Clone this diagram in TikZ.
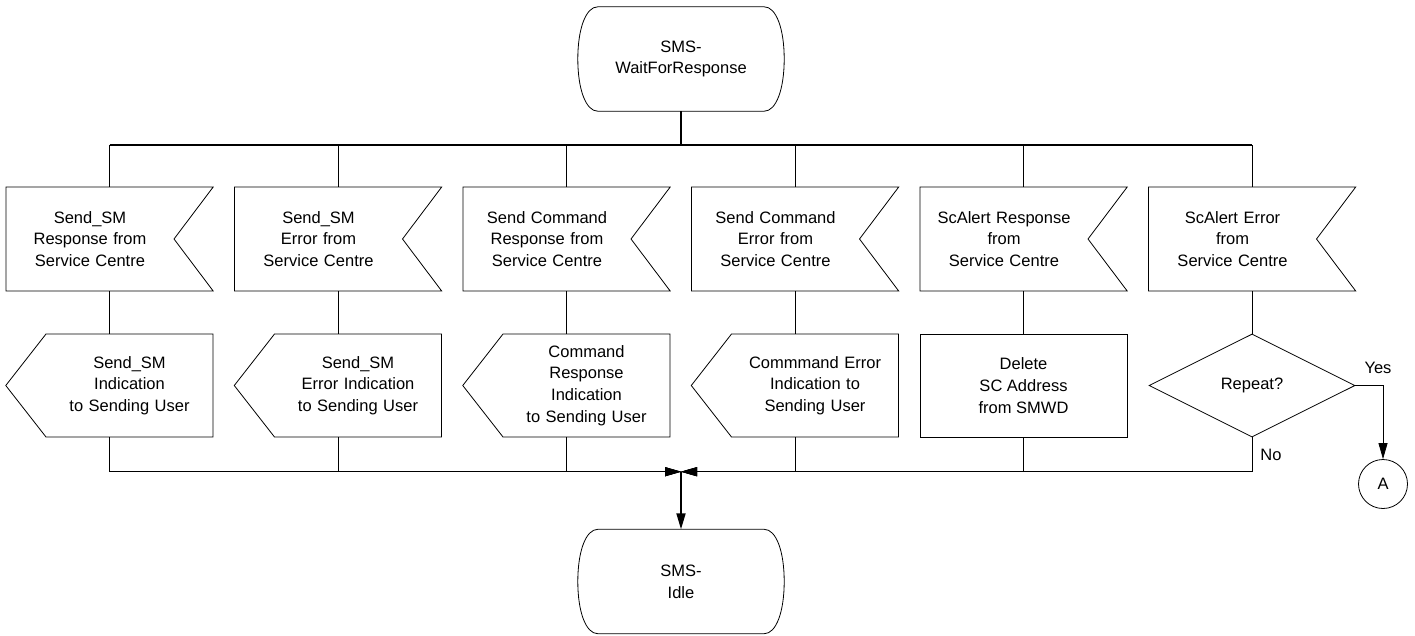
\documentclass[tikz,border=0pt]{standalone}
\usepackage{fontspec}
\setmainfont{Liberation Sans}
\usetikzlibrary{shapes.symbols,shapes.geometric,arrows.meta,calc}

\tikzset{
  state/.style={rectangle, minimum width=206pt, minimum height=104pt, inner sep=0pt,
    align=center},
  insig/.style={draw, line width=0.8pt, signal, signal to=nowhere, signal from=east,
    signal pointer angle=106, text width=168pt, align=center, minimum height=104pt,
    inner xsep=0pt},
  outsig/.style={draw, line width=0.8pt, signal, signal to=west, signal pointer angle=104,
    text width=167pt, align=center, minimum height=103pt, inner xsep=0pt},
  task/.style={draw, line width=0.8pt, rectangle, minimum width=207pt, minimum height=103pt,
    inner sep=0pt, align=center},
  decision/.style={draw, line width=0.8pt, diamond, aspect=2, minimum width=206pt,
    minimum height=103pt, inner sep=0pt},
  conn/.style={draw, line width=0.8pt, circle, minimum size=49pt, inner sep=0pt},
  flow/.style={line width=0.8pt},
  bus/.style={line width=1.2pt},
  stem/.style={line width=1.8pt},
  tip/.style={-{Triangle[length=16pt,width=9pt]}},
}

% outline of an SDL state round a node
\newcommand{\stateline}[1]{%
  \draw[line width=0.8pt] ($(#1.north west)+(20,0)$) -- ($(#1.north east)+(-20,0)$)
    .. controls ($(#1.north east)+(-8,0)$) and ($(#1.north east)+(0,22)$) .. (#1.east)
    .. controls ($(#1.south east)+(0,-22)$) and ($(#1.south east)+(-8,0)$) .. ($(#1.south east)+(-20,0)$)
    -- ($(#1.south west)+(20,0)$)
    .. controls ($(#1.south west)+(8,0)$) and ($(#1.south west)+(0,-22)$) .. (#1.west)
    .. controls ($(#1.north west)+(0,22)$) and ($(#1.north west)+(8,0)$) .. cycle;}

\begin{document}
\begin{tikzpicture}[x=1pt,y=-1pt,font=\fontsize{16.5}{21.7}\selectfont]
\useasboundingbox (0,0) rectangle (1415,635);

%%% STATES
\node[state] (wait) at (681,59) {SMS-\\WaitForResponse};
\stateline{wait}
\node[state] (idle) at (681,581.5) {SMS-\\Idle};
\stateline{idle}

%% Bus and merge points
\coordinate (b1) at (109.5,145);
\coordinate (b2) at (338,145);
\coordinate (b3) at (566.5,145);
\coordinate (b4) at (795,145);
\coordinate (b5) at (1023.5,145);
\coordinate (b6) at (1252,145);
\coordinate (m) at (681,471.7);

% SEND_SM RESPONSE
\node[insig] (in1) at (90,239) {Send\_SM\\Response from\\Service Centre};
\node[outsig] (out1) at (129.5,385.5) {Send\_SM\\Indication\\to Sending User};

% SEND_SM ERROR
\node[insig] (in2) at (318.5,239) {Send\_SM\\Error from\\Service Centre};
\node[outsig] (out2) at (358,385.5) {Send\_SM\\Error Indication\\to Sending User};

% SEND COMMAND RESPONSE
\node[insig] (in3) at (547,239) {Send Command\\Response from\\Service Centre};
\node[outsig] (out3) at (586.5,385.5) {Command\\Response\\Indication\\to Sending User};

% SEND COMMAND ERROR
\node[insig] (in4) at (775.5,239) {Send Command\\Error from\\Service Centre};
\node[outsig] (out4) at (815,385.5) {Commmand Error\\Indication to\\Sending User};

% SCALERT RESPONSE
\node[insig] (in5) at (1004,239) {ScAlert Response\\from\\Service Centre};
\node[task] (out5) at (1023.5,385.5) {Delete\\SC Address\\from SMWD};

% SCALERT ERROR
\node[insig] (in6) at (1232.5,239) {ScAlert Error\\from\\Service Centre};
\node[decision] (rep) at (1252,385.5) {Repeat?};
\node[conn] (a) at (1383,484) {A};
\node (yes) at (1378,368) {Yes};
\node (no) at (1271,455) {No};

%% Connectors
\draw[stem] (wait.south) -- (wait.south |- b1);
\draw[bus] (b1) -- (b6);

\draw[flow] (b1) -- (b1 |- in1.north);
\draw[flow] (b1 |- in1.south) -- (b1 |- out1.north);
\draw[flow,tip] (b1 |- out1.south) |- (m);

\draw[flow] (b2) -- (b2 |- in2.north);
\draw[flow] (b2 |- in2.south) -- (b2 |- out2.north);
\draw[flow,tip] (b2 |- out2.south) |- (m);

\draw[flow] (b3) -- (b3 |- in3.north);
\draw[flow] (b3 |- in3.south) -- (b3 |- out3.north);
\draw[flow,tip] (b3 |- out3.south) |- (m);

\draw[flow] (b4) -- (b4 |- in4.north);
\draw[flow] (b4 |- in4.south) -- (b4 |- out4.north);
\draw[flow,tip] (b4 |- out4.south) |- (m);

\draw[flow] (b5) -- (b5 |- in5.north);
\draw[flow] (b5 |- in5.south) -- (out5.north);
\draw[flow,tip] (out5.south) |- (m);

\draw[flow] (b6) -- (b6 |- in6.north);
\draw[flow] (b6 |- in6.south) -- (rep.north);
\draw[flow,tip] (rep.south) |- (m);
\draw[flow,tip] (rep.east) -| (a.north);

\draw[stem,tip] (m) -- (idle.north);
\end{tikzpicture}
\end{document}
